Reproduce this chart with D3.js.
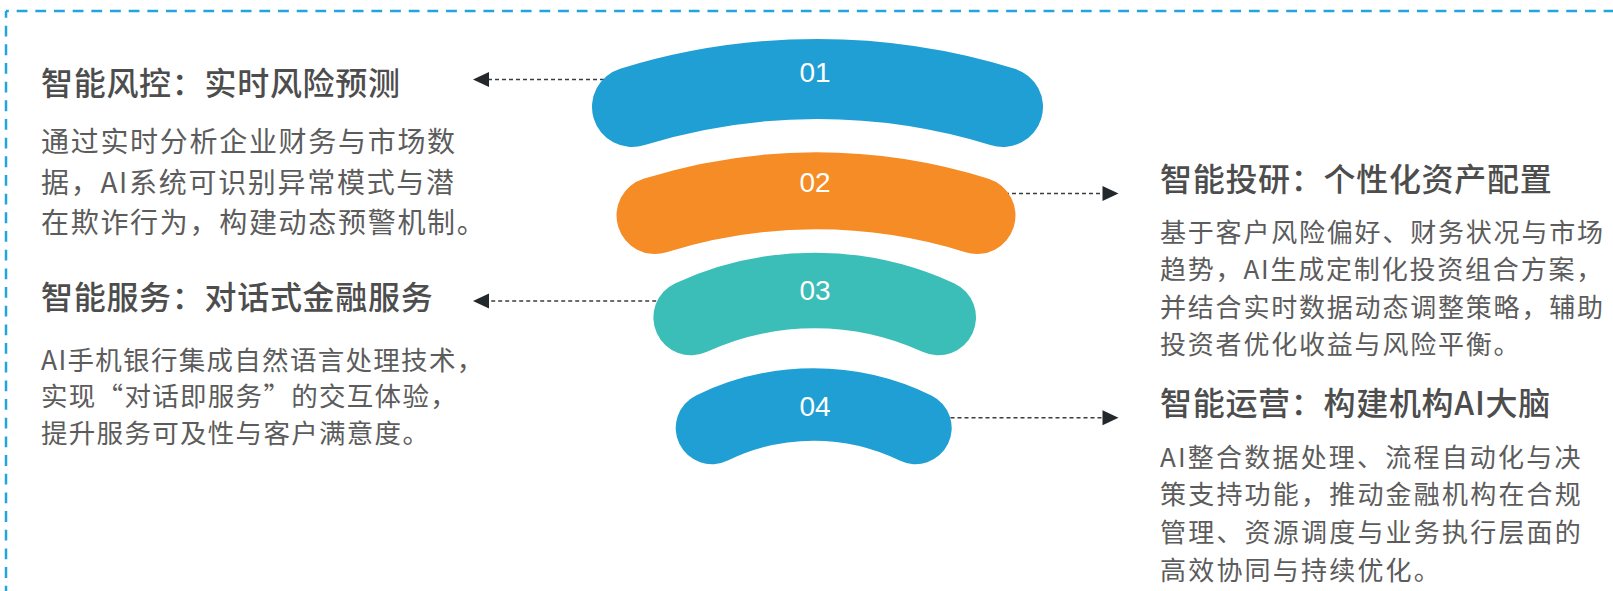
<!DOCTYPE html>
<html>
<head>
<meta charset="utf-8">
<script src="https://cdn.jsdelivr.net/npm/d3@7"></script>
<style>
  html, body { margin: 0; padding: 0; background: #ffffff; }
  svg { display: block; }
</style>
</head>
<body>
<svg id="chart" width="1613" height="591"></svg>
<script>
// ---- data ----
const ids = ["01", "02", "03", "04"];
const titles = [
  "智能风控：实时风险预测",
  "智能投研：个性化资产配置",
  "智能服务：对话式金融服务",
  "智能运营：构建机构AI大脑"
];
const descriptions = [
  ["通过实时分析企业财务与市场数", "据，AI系统可识别异常模式与潜", "在欺诈行为，构建动态预警机制。"],
  ["基于客户风险偏好、财务状况与市场", "趋势，AI生成定制化投资组合方案，", "并结合实时数据动态调整策略，辅助", "投资者优化收益与风险平衡。"],
  ["AI手机银行集成自然语言处理技术，", "实现“对话即服务”的交互体验，", "提升服务可及性与客户满意度。"],
  ["AI整合数据处理、流程自动化与决", "策支持功能，推动金融机构在合规", "管理、资源调度与业务执行层面的", "高效协同与持续优化。"]
];
const sides = ["left", "right", "left", "right"];

// ---- layout / style (not data) ----
const palette = ["#1f9fd4", "#f68c25", "#3bbdb8", "#1f9fd4"];
const arcGeom = [
  { cx: 817.5, top: 79,    hc: 185.5, sag: 28,   w: 80,   labelY: 72.5,  arrowY: 79.5 },
  { cx: 816,   top: 190.8, hc: 161,   sag: 24.7, w: 77,   labelY: 182.5, arrowY: 193.5 },
  { cx: 814.7, top: 290.5, hc: 123.5, sag: 27,   w: 75.6, labelY: 290,   arrowY: 301 },
  { cx: 813.7, top: 404.5, hc: 101.8, sag: 23.5, w: 72.4, labelY: 406.7, arrowY: 417.7 }
];
const textGeom = [
  { x: 41,   titleY: 81,  bodyY: 140, lh: 40.5, fs: 28,   ls: 1.7 },
  { x: 1160, titleY: 177, bodyY: 230, lh: 37.5, fs: 26,   ls: 1.8 },
  { x: 41,   titleY: 295, bodyY: 358, lh: 36.5, fs: 26.5, ls: 1.3 },
  { x: 1160, titleY: 401, bodyY: 455, lh: 37.8, fs: 26,   ls: 2.2 }
];
const arrowTipLeft = 473, arrowTipRight = 1118.5, headLen = 16, headHalf = 7.5;

const svg = d3.select("#chart");
const cjk = "'Noto Sans CJK SC', 'Noto Sans', sans-serif";

// dashed frame
const frame = svg.append("g").attr("fill", "none").attr("stroke", "#22a5dd")
  .attr("stroke-width", 2.5).attr("stroke-dasharray", "10.8 7.87");
frame.append("line").attr("x1", 6).attr("y1", 11).attr("x2", 1613).attr("y2", 11)
  .attr("stroke-dashoffset", 8);
frame.append("line").attr("x1", 6).attr("y1", 11).attr("x2", 6).attr("y2", 591)
  .attr("stroke-dashoffset", 4);

const items = ids.map((id, i) => ({
  id, title: titles[i], lines: descriptions[i], side: sides[i],
  color: palette[i], g: arcGeom[i], t: textGeom[i]
}));

// connector lines with arrowheads
const conn = svg.append("g");
items.forEach(d => {
  const g = d.g;
  const capX = d.side === "left" ? g.cx - g.hc : g.cx + g.hc;
  const tip = d.side === "left" ? arrowTipLeft : arrowTipRight;
  const base = d.side === "left" ? tip + headLen : tip - headLen;
  conn.append("line")
    .attr("x1", capX).attr("y1", g.arrowY).attr("x2", base).attr("y2", g.arrowY)
    .attr("stroke", "#3a3d40").attr("stroke-width", 1.4).attr("stroke-dasharray", "4 3");
  const p = d3.path();
  p.moveTo(tip, g.arrowY);
  p.lineTo(base, g.arrowY - headHalf);
  p.lineTo(base, g.arrowY + headHalf);
  p.closePath();
  conn.append("path").attr("d", p.toString()).attr("fill", "#23282d");
});

// arcs (thick stroked arcs with round caps)
const arcs = svg.append("g");
items.forEach(d => {
  const g = d.g;
  const R = (g.hc * g.hc + g.sag * g.sag) / (2 * g.sag);
  const theta = Math.asin(g.hc / R);
  const cy = g.top + R;
  const p = d3.path();
  p.arc(g.cx, cy, R, -Math.PI / 2 - theta, -Math.PI / 2 + theta);
  arcs.append("path").attr("d", p.toString())
    .attr("fill", "none").attr("stroke", d.color)
    .attr("stroke-width", g.w).attr("stroke-linecap", "round");
  arcs.append("text")
    .attr("x", 815).attr("y", g.labelY)
    .attr("text-anchor", "middle").attr("dominant-baseline", "central")
    .attr("fill", "#ffffff")
    .style("font-family", "'Liberation Sans', Arial, sans-serif")
    .style("font-size", "28px")
    .text(d.id);
});

// text blocks
const texts = svg.append("g");
items.forEach(d => {
  const t = d.t;
  texts.append("text")
    .attr("x", t.x).attr("y", t.titleY)
    .attr("dominant-baseline", "central")
    .attr("fill", "#4d4d4d")
    .style("font-family", cjk).style("font-size", "32px").style("font-weight", 500)
    .style("letter-spacing", "0.7px")
    .text(d.title);
  d.lines.forEach((line, j) => {
    texts.append("text")
      .attr("x", t.x).attr("y", t.bodyY + j * t.lh)
      .attr("dominant-baseline", "central")
      .attr("fill", "#5c5c5c")
      .style("font-family", cjk).style("font-size", t.fs + "px")
      .style("letter-spacing", t.ls + "px")
      .text(line);
  });
});
</script>
</body>
</html>
